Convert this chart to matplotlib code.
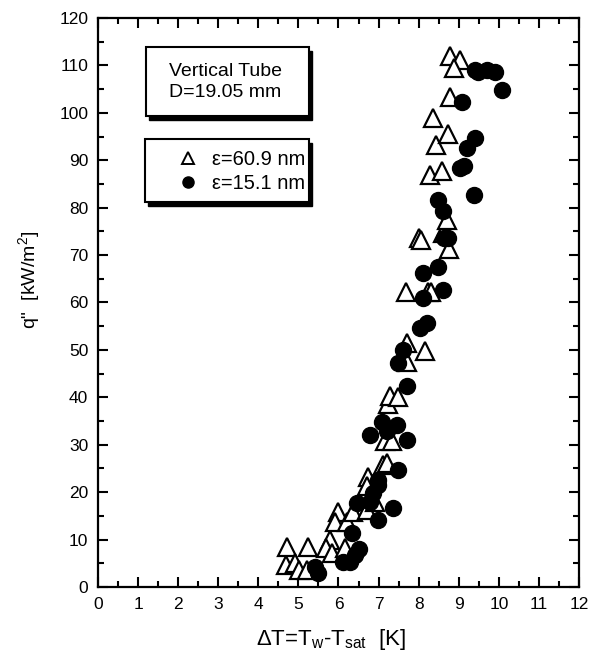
import numpy as np
import matplotlib
matplotlib.use("Agg")
import matplotlib.pyplot as plt
from matplotlib.patches import Rectangle
from matplotlib.lines import Line2D

plt.rcParams['font.family'] = ['Liberation Sans', 'DejaVu Sans']
plt.rcParams['mathtext.fontset'] = 'custom'
plt.rcParams['mathtext.rm'] = 'Liberation Sans'
plt.rcParams['mathtext.it'] = 'Liberation Sans'

# eps = 60.9 nm (open triangles)
dT_a = [4.71, 5.23, 4.69, 4.92, 5.02, 5.21, 5.79, 5.68, 5.83, 6.00, 5.91, 6.21,
        6.35, 6.16, 6.74, 6.70, 6.70, 6.91, 7.10, 7.22, 7.16, 7.33, 7.24, 7.29,
        7.49, 7.70, 8.16, 7.72, 7.68, 8.24, 8.32, 8.02, 8.07, 8.60, 8.76, 8.70,
        8.28, 8.58, 8.43, 8.72, 8.35, 8.78, 8.78, 9.02, 8.87]
q_a = [8.5, 8.5, 4.6, 5.0, 3.6, 3.6, 9.9, 8.2, 7.1, 15.9, 13.8, 13.8,
       15.9, 8.2, 23.3, 21.2, 16.2, 18.0, 25.7, 26.1, 30.7, 30.7, 38.6, 40.2,
       40.0, 51.4, 49.8, 47.5, 62.3, 62.3, 62.3, 73.6, 73.2, 74.6, 71.2, 77.4,
       86.9, 87.8, 93.2, 95.6, 98.9, 103.4, 111.9, 111.2, 109.4]

# eps = 15.1 nm (filled circles)
dT_b = [5.50, 5.41, 6.12, 6.29, 6.41, 6.50, 6.33, 6.45, 6.79, 6.99, 7.37, 6.99,
        6.87, 6.99, 7.49, 6.79, 7.08, 7.20, 7.45, 7.70, 7.70, 7.49, 7.62, 8.03,
        8.20, 8.10, 8.60, 8.10, 8.49, 8.62, 8.74, 8.60, 8.49, 9.39, 9.03, 9.12,
        9.20, 9.41, 9.07, 10.07, 9.41, 9.49, 9.70, 9.91]
q_b = [2.9, 4.3, 5.3, 5.3, 6.8, 8.0, 11.3, 17.7, 18.0, 14.1, 16.6, 21.5,
       19.8, 22.6, 24.7, 32.1, 34.9, 32.8, 34.2, 31.0, 42.3, 47.2, 50.0, 54.6,
       55.6, 60.9, 62.7, 66.3, 67.4, 73.6, 73.6, 79.2, 81.6, 82.7, 88.3, 88.7,
       92.5, 94.6, 102.2, 104.9, 109.1, 108.7, 109.1, 108.7]

fig = plt.figure(figsize=(5.89, 6.56), dpi=100)
ax = fig.add_axes([0.1664, 0.1052, 0.8166, 0.8674])

ax.plot(dT_a, q_a, '^', ms=12.5, mfc='white', mec='black', mew=1.6, ls='none', zorder=3)
ax.plot(dT_b, q_b, 'o', ms=11.5, mfc='black', mec='black', ls='none', zorder=4)

ax.set_xlim(0, 12)
ax.set_ylim(0, 120)
ax.set_xticks(np.arange(0, 13, 1))
ax.set_yticks(np.arange(0, 121, 10))
ax.set_xticks(np.arange(0.5, 12, 1), minor=True)
ax.set_yticks(np.arange(5, 120, 10), minor=True)
ax.tick_params(which='both', direction='in', top=True, right=True, width=1.5,
               labelsize=12.5)
ax.tick_params(which='major', length=7, pad=7)
ax.tick_params(which='minor', length=4)
for s in ax.spines.values():
    s.set_linewidth(1.6)

ax.set_xlabel(r'$\Delta$T=T$_\mathrm{w}$-T$_\mathrm{sat}$  [K]', fontsize=16)
ax.xaxis.set_label_coords(0.485, -0.071)
ax.set_ylabel(r'q"  [kW/m$^2$]', fontsize=14)
ax.yaxis.set_label_coords(-0.116, 0.54)

# info box with drop shadow
def shadow_box(x0, y0, x1, y1):
    dx, dy = 0.006, 0.007
    ax.add_patch(Rectangle((x0 + dx, y0 - dy), x1 - x0, y1 - y0, transform=ax.transAxes,
                           facecolor='black', edgecolor='black', zorder=5))
    ax.add_patch(Rectangle((x0, y0), x1 - x0, y1 - y0, transform=ax.transAxes,
                           facecolor='white', edgecolor='black', lw=1.5, zorder=6))

shadow_box(0.0998, 0.828, 0.4387, 0.949)
ax.text(0.148, 0.8875, 'Vertical Tube\nD=19.05 mm', transform=ax.transAxes,
        fontsize=14, va='center', ha='left', linespacing=1.35, zorder=7)

shadow_box(0.0977, 0.677, 0.4387, 0.787)
handles = [Line2D([], [], marker='^', ls='none', ms=8.5, mfc='white', mec='black', mew=1.4),
           Line2D([], [], marker='o', ls='none', ms=8, mfc='black', mec='black')]
leg = ax.legend(handles, ['ε=60.9 nm', 'ε=15.1 nm'], loc='center left',
                bbox_to_anchor=(0.166, 0.730), frameon=False, fontsize=14.5,
                handlelength=1.0, handletextpad=0.7, labelspacing=0.22,
                borderpad=0, borderaxespad=0)
leg.set_zorder(7)

fig.savefig('out.png', dpi=100)
